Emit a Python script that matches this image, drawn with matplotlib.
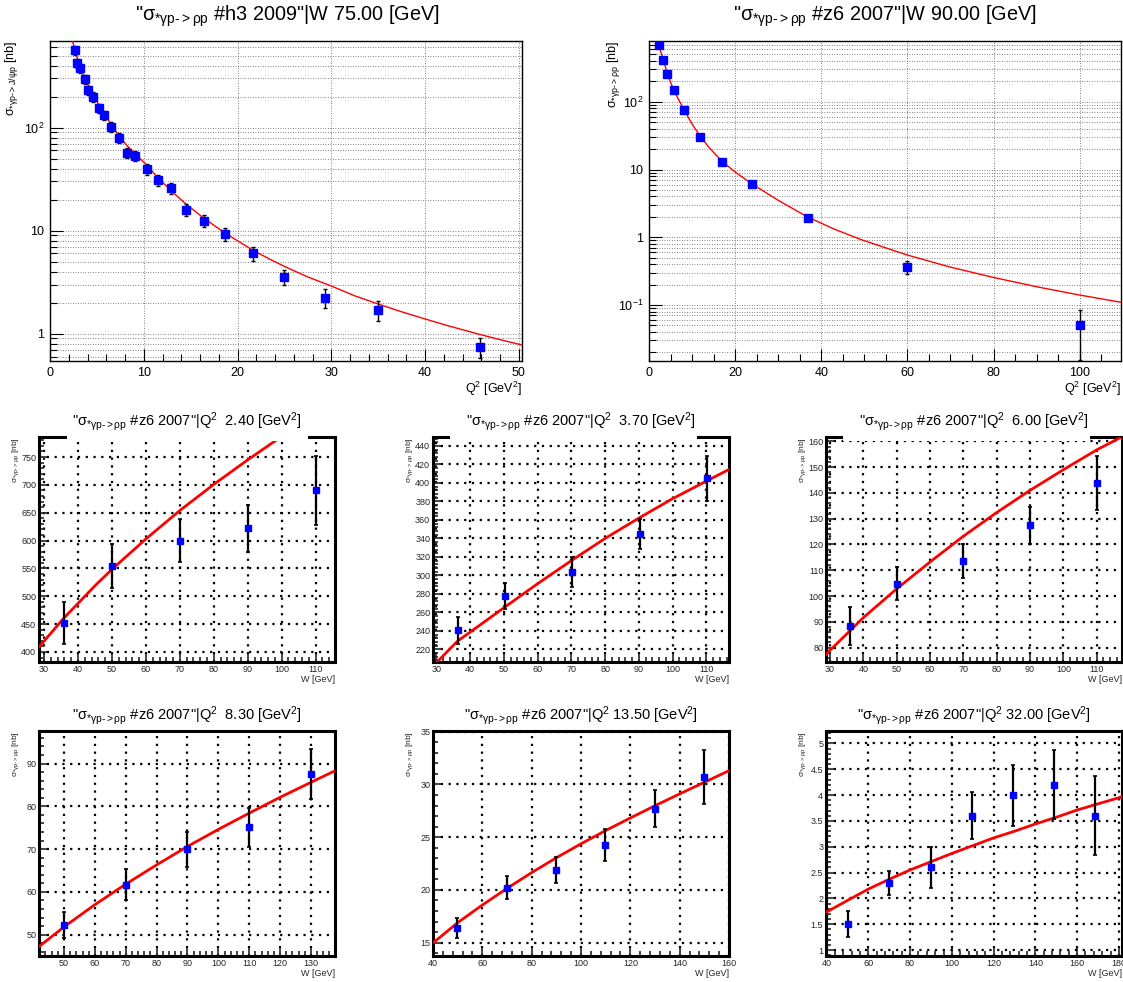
import numpy as np
import matplotlib.pyplot as plt
from matplotlib.ticker import MultipleLocator, AutoMinorLocator, LogLocator, FuncFormatter, NullFormatter
from matplotlib.patches import Rectangle

plt.rcParams['font.family'] = ['Liberation Sans', 'DejaVu Sans']
plt.rcParams['mathtext.fontset'] = 'custom'
plt.rcParams['mathtext.rm'] = 'Liberation Sans'
plt.rcParams['mathtext.it'] = 'Liberation Sans:italic'
plt.rcParams['mathtext.default'] = 'regular'

# ---- H1 2009, W = 75 GeV, sigma vs Q2
q2_h3 = [2.67, 2.9, 3.2, 3.7, 4.1, 4.6, 5.2, 5.8, 6.55, 7.35, 8.2, 9.1, 10.3, 11.5,
         12.9, 14.5, 16.45, 18.7, 21.7, 25.0, 29.3, 34.96, 45.9]
sig_h3 = [568, 420, 380, 297, 232, 200, 154, 132, 102, 80, 56.8, 53, 39.7, 30.8,
          26, 15.9, 12.5, 9.2, 6.03, 3.55, 2.24, 1.69, 0.743]
relerr_h3 = [0.10, 0.10, 0.10, 0.10, 0.10, 0.11, 0.10, 0.10, 0.11, 0.11, 0.11, 0.11, 0.12, 0.12,
             0.12, 0.13, 0.14, 0.14, 0.15, 0.17, 0.20, 0.22, 0.22]
fit_q_h3 = [2.40, 3.0, 3.69, 4.65, 5.83, 7.35, 8.2, 9.14, 10.28, 11.5, 12.87, 14.47, 16.45, 18.74,
            21.7, 23.5, 25.13, 27.5, 30.0, 32.5, 35.0, 37.5, 40.0, 42.5, 45.9, 48.0, 50.34]
fit_s_h3 = [689, 440, 305, 204, 133, 83, 67, 55, 43.5, 32.7, 24.6, 18.2, 13.1, 9.38,
            6.40, 5.25, 4.44, 3.55, 2.90, 2.33, 1.94, 1.63, 1.39, 1.19, 0.98, 0.875, 0.776]

# ---- ZEUS 2007, W = 90 GeV, sigma vs Q2
q2_z6 = [2.4, 3.3, 4.25, 5.75, 8.2, 11.9, 17.0, 23.9, 36.9, 60.0, 100.0]
sig_z6 = [680, 418, 259, 147, 75.3, 30.7, 13.1, 6.14, 1.91, 0.365, 0.0506]
err_z6 = [40, 25, 15, 8, 4, 1.8, 0.8, 0.4, 0.15, 0.08, 0.035]
fit_q_z6 = [1.92, 3.34, 4.25, 5.75, 8.17, 10.0, 11.93, 14.0, 17.0, 20.0, 23.9, 30.1, 36.9,
            43.0, 49.3, 59.8, 70.0, 80.0, 90.0, 99.9, 109.5]
fit_s_z6 = [789, 418, 259, 147, 75.3, 46.8, 30.7, 20.9, 13.1, 9.2, 6.14, 3.48, 1.98,
            1.32, 0.92, 0.551, 0.362, 0.255, 0.186, 0.1405, 0.110]

# ---- ZEUS 2007, sigma vs W at fixed Q2
w_panels = [
    dict(q2='2.40', w=[36, 50.1, 70, 90, 110], s=[452, 554, 600, 622, 690],
         e=[38, 39, 38, 42.5, 62],
         fw=[28.5, 36, 45, 50.1, 60, 70, 80, 90, 99.5], fs=[409, 462, 519, 549, 603, 654, 701, 745, 785],
         xlim=(28.5, 115.7), ylim=(382, 786), xmaj=10, ymaj=50),
    dict(q2='3.70', w=[36.3, 50.2, 70.1, 90.2, 110.1], s=[240.5, 277.3, 303.6, 344.7, 405],
         e=[15, 14, 16, 16.5, 24],
         fw=[30.2, 36.3, 40, 50, 60, 70, 80, 90, 100, 110, 116.7],
         fs=[206.3, 229, 238.6, 265, 291, 316, 340, 362, 383, 402, 414.6],
         xlim=(29, 116.7), ylim=(206.3, 449.7), xmaj=10, ymaj=20),
    dict(q2='6.00', w=[36, 50, 70, 90, 110], s=[88.4, 104.8, 113.6, 127.4, 143.8],
         e=[7.4, 6.5, 6.6, 7.1, 10.4],
         fw=[28.8, 40, 50, 60, 70, 80, 90, 100, 110, 117],
         fs=[77.4, 91.6, 102.8, 113.2, 123.2, 132.4, 141.0, 149.0, 156.7, 161.4],
         xlim=(28.8, 117.6), ylim=(74.4, 161.7), xmaj=10, ymaj=10),
    dict(q2='8.30', w=[50, 70, 90, 110, 130], s=[52.3, 61.7, 70.0, 75.1, 87.6],
         e=[3.0, 3.6, 4.1, 4.6, 5.9],
         fw=[41.9, 50, 60, 70, 80, 90, 100, 110, 120, 130, 137.8],
         fs=[47.2, 51.8, 57.0, 61.8, 66.3, 70.6, 74.6, 78.4, 82.1, 85.6, 88.3],
         xlim=(41.9, 137.8), ylim=(45.0, 97.6), xmaj=10, ymaj=10),
    dict(q2='13.50', w=[49.9, 69.9, 89.8, 109.8, 129.8, 149.7], s=[16.39, 20.2, 21.9, 24.26, 27.7, 30.7],
         e=[0.91, 1.1, 1.23, 1.5, 1.75, 2.6],
         fw=[40, 50, 60, 70, 80, 90, 100, 110, 120, 130, 140, 150, 160],
         fs=[14.97, 16.9, 18.57, 20.15, 21.64, 23.05, 24.37, 25.63, 26.82, 27.98, 29.1, 30.2, 31.3],
         xlim=(40, 160), ylim=(13.74, 35.06), xmaj=20, ymaj=5),
    dict(q2='32.00', w=[50.1, 70.1, 89.8, 109.6, 129.3, 148.8, 168.5], s=[1.50, 2.29, 2.60, 3.60, 4.00, 4.20, 3.60],
         e=[0.25, 0.23, 0.4, 0.45, 0.59, 0.67, 0.77],
         fw=[39.7, 50, 60, 70, 80, 90, 100, 110, 120, 130, 140, 150, 160, 170, 181],
         fs=[1.73, 1.96, 2.18, 2.37, 2.55, 2.71, 2.87, 3.02, 3.17, 3.30, 3.44, 3.57, 3.71, 3.83, 3.96],
         xlim=(39.7, 181.5), ylim=(0.884, 5.24), xmaj=20, ymaj=0.5),
]

W_PX, H_PX = 1123, 982
fig = plt.figure(figsize=(W_PX / 100, H_PX / 100), dpi=100)

ARROW = '{\u2010}{>}'
SUB_RHO = r'σ$_{*γp' + ARROW + r'ρp}$'
SUB_PSI = r'σ$_{*γp' + ARROW + r'J/ψp}$'


def frac(x0, y0, x1, y1):
    return [x0 / W_PX, 1 - y1 / H_PX, (x1 - x0) / W_PX, (y1 - y0) / H_PX]


def log_label(v, pos):
    e = int(round(np.log10(v)))
    if e == 0:
        return '1'
    if e == 1:
        return '10'
    return r'$10^{%d}$' % e


def top_panel(rect, q, s, err, fq, fs, xlim, ylim, xmaj, xminor, ylab, title, tx, labx):
    ax = fig.add_axes(frac(*rect))
    ax.set_yscale('log')
    ax.plot(fq, fs, color='red', lw=1.0, zorder=3)
    ax.errorbar(q, s, yerr=err, fmt='s', color='blue', ms=5.5, ecolor='black',
                elinewidth=1.0, capsize=1.5, capthick=1.0, zorder=4)
    ax.set_xlim(*xlim)
    ax.set_ylim(*ylim)
    ax.xaxis.set_major_locator(MultipleLocator(xmaj))
    ax.xaxis.set_minor_locator(AutoMinorLocator(xminor))
    ax.yaxis.set_major_locator(LogLocator(base=10))
    ax.yaxis.set_minor_locator(LogLocator(base=10, subs=np.arange(2, 10)))
    ax.yaxis.set_major_formatter(FuncFormatter(log_label))
    ax.yaxis.set_minor_formatter(NullFormatter())
    ax.grid(which='major', axis='x', ls=(0, (1, 2)), lw=0.6, color='0.35')
    ax.grid(which='both', axis='y', ls=(0, (1, 2)), lw=0.6, color='0.35')
    ax.tick_params(which='both', direction='in', top=False, right=False, labelsize=9, width=0.8)
    ax.tick_params(which='major', length=9, pad=4)
    ax.tick_params(which='minor', length=5)
    for sp in ax.spines.values():
        sp.set_linewidth(1.0)
    ax.set_xlabel('Q$^2$ [GeV$^2$]', loc='right', fontsize=9, labelpad=1)
    ax.set_ylabel(ylab + ' [nb]', loc='top', fontsize=9)
    ax.yaxis.set_label_coords(labx, 1.0)
    fig.text(tx / W_PX, 1 - 16 / H_PX, title, ha='center', va='center', fontsize=14.3)
    return ax


top_panel((50, 41, 522, 361), q2_h3, sig_h3, np.array(sig_h3) * np.array(relerr_h3),
          fit_q_h3, fit_s_h3, (0, 50.34), (0.543, 692), 10, 5,
          SUB_PSI, '"' + SUB_RHO + ' #h3 2009"|W 75.00 [GeV]', 287, -0.064)
top_panel((649, 41, 1121, 361), q2_z6, sig_z6, err_z6,
          fit_q_z6, fit_s_z6, (0, 109.6), (0.0149, 789), 20, 4,
          SUB_RHO, '"' + SUB_RHO + ' #z6 2007"|W 90.00 [GeV]', 885, -0.057)

cols = [(39, 335), (433, 729), (826, 1122)]
rows = [(437, 662), (731, 956)]
for i, p in enumerate(w_panels):
    r, c = divmod(i, 3)
    x0, x1 = cols[c]
    y0, y1 = rows[r]
    ax = fig.add_axes(frac(x0, y0, x1, y1))
    ax.plot(p['fw'], p['fs'], color='red', lw=2.0, zorder=3)
    ax.errorbar(p['w'], p['s'], yerr=p['e'], fmt='s', color='blue', ms=4.2, ecolor='black',
                elinewidth=1.6, capsize=1.5, capthick=1.2, zorder=4)
    ax.set_xlim(*p['xlim'])
    ax.set_ylim(*p['ylim'])
    ax.xaxis.set_major_locator(MultipleLocator(p['xmaj']))
    ax.xaxis.set_minor_locator(AutoMinorLocator(5))
    ax.yaxis.set_major_locator(MultipleLocator(p['ymaj']))
    ax.yaxis.set_minor_locator(AutoMinorLocator(5))
    ax.yaxis.set_major_formatter(FuncFormatter(lambda v, pos: ('%g' % round(v, 3))))
    ax.grid(which='major', ls=(0, (1, 2.5)), lw=1.6, color='black')
    ax.tick_params(which='both', direction='in', top=False, right=False, labelsize=6.5,
                   width=1.2, colors='0.15')
    ax.tick_params(which='major', length=6, pad=2)
    ax.tick_params(which='minor', length=3.5)
    for sp in ax.spines.values():
        sp.set_linewidth(2.2)
    ax.set_xlabel('W [GeV]', loc='right', fontsize=6.5, labelpad=1, color='0.15')
    ax.set_ylabel(SUB_RHO + ' [nb]', loc='top', fontsize=6, color='0.15')
    ax.yaxis.set_label_coords(-0.062, 1.0)
    q2txt = ' ' + p['q2'] if len(p['q2']) < 5 else p['q2']
    title = '"' + SUB_RHO + ' #z6 2007"|Q$^2$ %s [GeV$^2$]' % q2txt
    ty = y0 - 15
    if r == 0:
        w = x1 - x0
        left = 0.057 if c else 0.095
        right = 0.108 if c else 0.09
        fig.patches.append(Rectangle(((x0 + left * w) / W_PX, 1 - (y0 + 4) / H_PX),
                                     (1 - left - right) * w / W_PX, 34 / H_PX,
                                     transform=fig.transFigure, facecolor='white',
                                     edgecolor='none', zorder=2))
    fig.text((x0 + x1) / 2 / W_PX, 1 - ty / H_PX, title, ha='center', va='center', fontsize=10.5)

fig.savefig('out.png', dpi=100)
